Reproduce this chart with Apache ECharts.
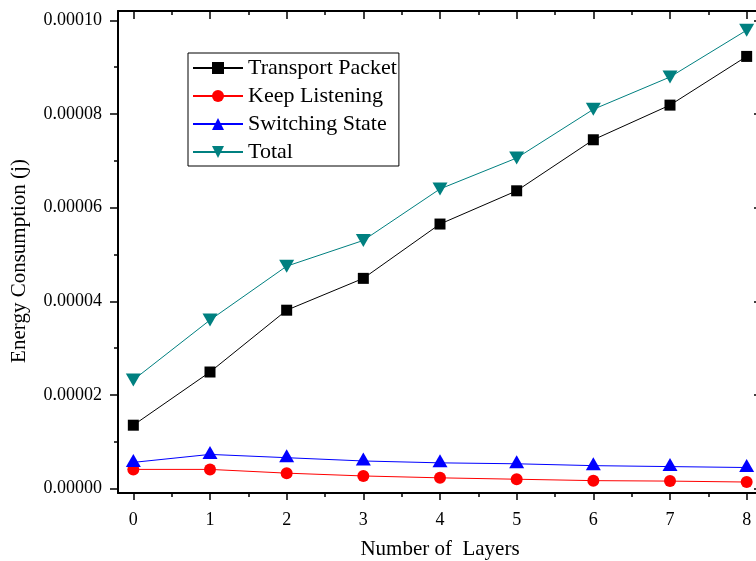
<!DOCTYPE html>
<html>
<head>
<meta charset="utf-8">
<script src="https://cdn.jsdelivr.net/npm/echarts@6/dist/echarts.min.js"></script>
<style>
  html, body { margin: 0; padding: 0; background: #fff; }
  #chart { width: 756px; height: 561px; }
</style>
</head>
<body>
<div id="chart"></div>
<script>
// layers on the x axis
var layers = [0, 1, 2, 3, 4, 5, 6, 7, 8];

// energy per layer count (j)
var transportPacket = [0.00001354, 0.0000249, 0.0000381, 0.0000449, 0.0000565, 0.0000636, 0.0000745, 0.0000819, 0.0000923];
var keepListening = [0.0000041, 0.0000041, 0.0000033, 0.0000027, 0.0000023, 0.0000020, 0.0000017, 0.0000016, 0.0000014];
var switchingState = [0.0000056, 0.0000073, 0.0000066, 0.0000059, 0.0000055, 0.0000053, 0.0000049, 0.0000047, 0.0000045];
var total = [0.0000232, 0.0000360, 0.0000475, 0.0000530, 0.0000640, 0.0000706, 0.0000810, 0.0000879, 0.0000979];

// tick positions
var xMajor = [0, 1, 2, 3, 4, 5, 6, 7, 8];
var xMinor = [0.5, 1.5, 2.5, 3.5, 4.5, 5.5, 6.5, 7.5];
var yMajor = [0, 0.00002, 0.00004, 0.00006, 0.00008, 0.0001];
var yMinor = [0.00001, 0.00003, 0.00005, 0.00007, 0.00009];

var font = "'Liberation Serif', 'Times New Roman', serif";
var X_MIN = -0.2, X_MAX = 8.2;
var Y_MIN = -0.00000094, Y_MAX = 0.000102;

function pairs(vals) {
  return layers.map(function (x, i) { return [x, vals[i]]; });
}

// one frame side: an axis that only draws ticks (and maybe line/labels)
function xSide(pos, ticks, len, inside, withLine) {
  return {
    type: 'value', position: pos, min: X_MIN, max: X_MAX,
    axisLine: { show: withLine, onZero: false, lineStyle: { color: '#000', width: 2 } },
    axisTick: { show: true, inside: inside, length: len, customValues: ticks, lineStyle: { color: '#000', width: 1.5 } },
    axisLabel: { show: false },
    splitLine: { show: false }
  };
}
function ySide(pos, ticks, len, inside, withLine) {
  return {
    type: 'value', position: pos, min: Y_MIN, max: Y_MAX,
    axisLine: { show: withLine, onZero: false, lineStyle: { color: '#000', width: 2 } },
    axisTick: { show: true, inside: inside, length: len, customValues: ticks, lineStyle: { color: '#000', width: 1.5 } },
    axisLabel: { show: false },
    splitLine: { show: false }
  };
}

var chart = echarts.init(document.getElementById('chart'));

var xMain = xSide('bottom', xMajor, 7, false, true);
xMain.axisLabel = {
  show: true, customValues: xMajor, margin: 18,
  color: '#000', fontSize: 18, fontFamily: font
};
xMain.name = 'Number of  Layers';
xMain.nameLocation = 'middle';
xMain.nameGap = 46;
xMain.nameTextStyle = { color: '#000', fontSize: 21, fontFamily: font };

var yMain = ySide('left', yMajor, 8, false, true);
yMain.axisLabel = {
  show: true, customValues: yMajor, margin: 16,
  color: '#000', fontSize: 18, fontFamily: font,
  formatter: function (v) { return v.toFixed(5); }
};
yMain.name = 'Energy Consumption (j)';
yMain.nameLocation = 'middle';
yMain.nameGap = 88;
yMain.nameTextStyle = { color: '#000', fontSize: 21, fontFamily: font, padding: [0, 18, 0, 0] };

function lineSeries(name, vals, color, symbol, size, extra) {
  var s = {
    name: name, type: 'line', data: pairs(vals),
    symbol: symbol, symbolSize: size,
    lineStyle: { color: color, width: 1 },
    itemStyle: { color: color },
    emphasis: { disabled: true },
    animation: false
  };
  for (var k in extra) s[k] = extra[k];
  return s;
}

chart.setOption({
  backgroundColor: '#fff',
  animation: false,
  grid: { left: 118, top: 11, right: -6, bottom: 68, containLabel: false, outerBoundsMode: 'none' },
  legend: {
    left: 188, top: 53, orient: 'vertical',
    itemWidth: 50, itemHeight: 15, itemGap: 6,
    padding: [4, 2, 3, 4],
    borderColor: '#000', borderWidth: 1,
    textStyle: { color: '#000', fontSize: 22, fontFamily: font },
    data: ['Transport Packet', 'Keep Listening', 'Switching State', 'Total']
  },
  xAxis: [
    xMain,
    xSide('bottom', xMinor, 4, false, false),
    xSide('top', xMajor, 8, true, true),
    xSide('top', xMinor, 4, true, false)
  ],
  yAxis: [
    yMain,
    ySide('left', yMinor, 4, false, false),
    ySide('right', yMajor, 8, true, true),
    ySide('right', yMinor, 4, true, false)
  ],
  series: [
    lineSeries('Transport Packet', transportPacket, '#000000', 'rect', 11, {}),
    lineSeries('Keep Listening', keepListening, '#ff0000', 'circle', 12, {}),
    lineSeries('Switching State', switchingState, '#0000ff', 'triangle', [15, 13], { symbolOffset: [0, -2] }),
    lineSeries('Total', total, '#008080', 'triangle', [15, 13], { symbolRotate: 180 })
  ]
});
</script>
</body>
</html>
